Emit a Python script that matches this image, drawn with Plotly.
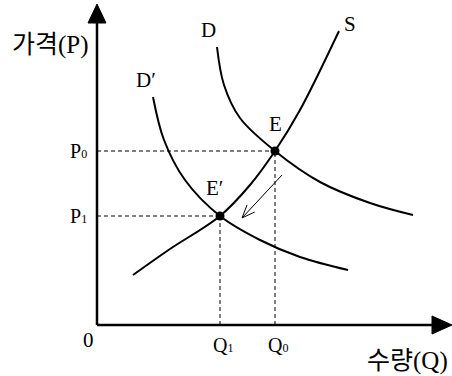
import plotly.graph_objects as go
import numpy as np

# Curve data (quantity, price) in chart units; origin at axis corner
S_q = [36, 73, 123, 153, 178, 203, 242]
S_p = [50, 76, 109, 140, 174, 215, 294]
D_q = [120, 127, 143, 178, 223, 273, 316]
D_p = [278, 240, 207, 174, 143, 122, 110]
D1_q = [56, 67, 88, 123, 163, 203, 251]
D1_p = [228, 185, 145, 109, 85, 68, 55]

Q0, P0 = 178, 174
Q1, P1 = 123, 109

arrow_from = (185, 150)
arrow_to = (145, 107)

SERIF = "Liberation Serif"
KR = "Noto Sans CJK KR"

fig = go.Figure()

black = "black"
# axes
fig.add_trace(go.Scatter(x=[0, 0], y=[0, 305], mode="lines", line=dict(color=black, width=2.5), hoverinfo="skip"))
fig.add_trace(go.Scatter(x=[0, 338], y=[0, 0], mode="lines", line=dict(color=black, width=2.5), hoverinfo="skip"))
# arrowheads
fig.add_trace(go.Scatter(x=[-9, 9, 0, -9], y=[302, 302, 321, 302], mode="lines", fill="toself",
                         fillcolor=black, line=dict(color=black, width=1), hoverinfo="skip"))
fig.add_trace(go.Scatter(x=[335, 335, 355, 335], y=[9, -9, 0, 9], mode="lines", fill="toself",
                         fillcolor=black, line=dict(color=black, width=1), hoverinfo="skip"))

# dashed guides
for xs, ys in [([0, Q0], [P0, P0]), ([0, Q1], [P1, P1]), ([Q0, Q0], [0, P0]), ([Q1, Q1], [0, P1])]:
    fig.add_trace(go.Scatter(x=xs, y=ys, mode="lines", line=dict(color=black, width=1, dash="4px,3px"), hoverinfo="skip"))

# curves
for q, p in [(S_q, S_p), (D_q, D_p), (D1_q, D1_p)]:
    fig.add_trace(go.Scatter(x=q, y=p, mode="lines", line=dict(color=black, width=2, shape="spline", smoothing=1.0), hoverinfo="skip"))

# equilibrium points
fig.add_trace(go.Scatter(x=[Q0, Q1], y=[P0, P1], mode="markers", marker=dict(color=black, size=9), hoverinfo="skip"))

# shift arrow
ax0, ay0 = arrow_from
ax1, ay1 = arrow_to
ang = np.arctan2(ay0 - ay1, ax0 - ax1)
L = 14
heads = []
for d in (0.38, -0.38):
    heads.append((ax1 + L * np.cos(ang + d), ay1 + L * np.sin(ang + d)))
fig.add_trace(go.Scatter(x=[ax0, ax1], y=[ay0, ay1], mode="lines", line=dict(color=black, width=1), hoverinfo="skip"))
fig.add_trace(go.Scatter(x=[heads[0][0], ax1, heads[1][0]], y=[heads[0][1], ay1, heads[1][1]], mode="lines",
                         line=dict(color=black, width=1), hoverinfo="skip"))

def txt(x, y, s, size=20, font=SERIF, xanchor="center"):
    fig.add_annotation(x=x, y=y, text=s, showarrow=False, font=dict(family=font, size=size, color=black),
                       xanchor=xanchor, yanchor="middle")

SUB = "<span style='font-size:12px'>%s</span>"
txt(-47, 283, "가격<span style='font-family:Liberation Serif'>(P)</span>", size=25, font=KR)
txt(310, -33, "수량<span style='font-family:Liberation Serif'>(Q)</span>", size=25, font=KR)
txt(-9, -15, "0", size=21)
txt(-8, P0, "P" + SUB % "0", size=20, xanchor="right")
txt(-8, P1, "P" + SUB % "1", size=20, xanchor="right")
txt(Q1 + 3, -20, "Q" + SUB % "1", size=20)
txt(Q0 + 3, -20, "Q" + SUB % "0", size=20)
txt(111, 295, "D", size=21)
txt(253, 301, "S", size=21)
txt(49, 245, "D′", size=21)
txt(Q0, 201, "E", size=21)
txt(Q1 - 6, 137, "E′", size=21)

fig.update_layout(
    width=452, height=376, margin=dict(l=0, r=0, t=0, b=0),
    paper_bgcolor="white", plot_bgcolor="white", showlegend=False,
    xaxis=dict(range=[-97, 355], visible=False, fixedrange=True),
    yaxis=dict(range=[-51, 325], visible=False, fixedrange=True),
)
fig.write_html("out.html", config={"displayModeBar": False},
               post_script="document.body.style.margin='0px';document.body.style.overflow='hidden';")
